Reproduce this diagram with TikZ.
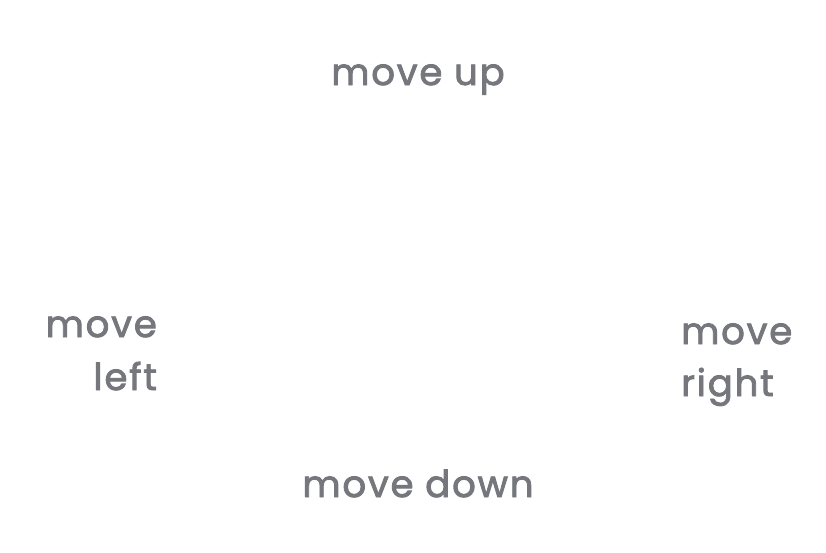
\documentclass[tikz,border=0pt]{standalone}
\usepackage{fontspec}
\newfontfamily\lblfont{Poppins}[FakeBold=2.3,LetterSpace=5]
\definecolor{txt}{HTML}{75777C}
\begin{document}
\begin{tikzpicture}[x=1pt,y=-1pt,
  lbl/.style={inner sep=0pt,text=txt,font=\lblfont\fontsize{37}{53}\selectfont}]
\useasboundingbox[fill=white] (0,0) rectangle (826,552);
\node[lbl,anchor=base] (up) at (418,85) {move up};
\node[lbl,anchor=base] (down) at (418,497) {move down};
\node[lbl,anchor=base east] (left1) at (157,337) {move};
\node[lbl,anchor=base east] (left2) at (157,390) {left};
\node[lbl,anchor=base west] (right1) at (681,344) {move};
\node[lbl,anchor=base west] (right2) at (681,396) {right};
\end{tikzpicture}
\end{document}
